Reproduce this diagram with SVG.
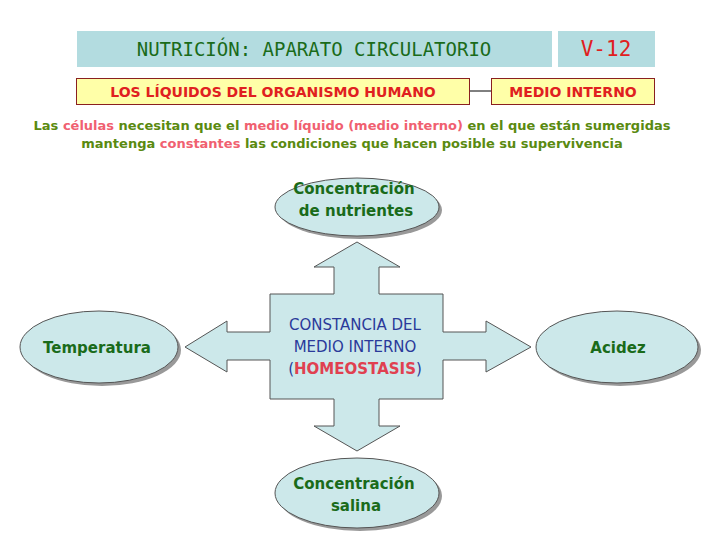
<svg xmlns="http://www.w3.org/2000/svg" width="720" height="540" viewBox="0 0 720 540">
<defs>
<style>
.c{font-family:"DejaVu Sans",sans-serif;font-weight:bold}
.e{fill:#cce8ea;stroke:#555;stroke-width:1}
.g{fill:#1a6b1a;font-size:15px}
.sh{fill:#999}
</style>
</defs>
<rect width="720" height="540" fill="#fff"/>
<g id="title">
<rect x="77" y="31" width="475" height="36" fill="#b3dce0"/>
<text x="314" y="56" text-anchor="middle" font-family="DejaVu Sans Mono,monospace" font-size="19" fill="#1a6b1a">NUTRICIÓN: APARATO CIRCULATORIO</text>
</g>
<g id="code">
<rect x="558" y="31" width="97" height="36" fill="#b3dce0"/>
<text x="606" y="56" text-anchor="middle" font-family="DejaVu Sans Mono,monospace" font-size="21" fill="#e02020">V-12</text>
</g>
<g id="connectors"><line x1="470" y1="91" x2="491" y2="91" stroke="#000"/></g>
<g id="liquidos">
<rect x="76.5" y="78.5" width="393" height="26" fill="#ffffa8" stroke="#8a2020"/>
<text x="273" y="97" text-anchor="middle" class="c" font-size="14" fill="#e02020">LOS LÍQUIDOS DEL ORGANISMO HUMANO</text>
</g>
<g id="medio">
<rect x="491.5" y="78.5" width="163" height="26" fill="#ffffa8" stroke="#8a2020"/>
<text x="573" y="97" text-anchor="middle" class="c" font-size="14" fill="#e02020">MEDIO INTERNO</text>
</g>
<g id="texto" class="c" font-size="13" fill="#5a8a10">
<text x="352" y="130" text-anchor="middle">Las <tspan fill="#f06070">células</tspan> necesitan que el <tspan fill="#f06070">medio líquido (medio interno)</tspan> en el que están sumergidas</text>
<text x="352" y="148" text-anchor="middle">mantenga <tspan fill="#f06070">constantes</tspan> las condiciones que hacen posible su supervivencia</text>
</g>
<g id="cross">
<path d="M357,242 L400,267 L379,267 L379,294 L443,294 L443,332 L486,332 L486,321 L531,347 L486,372 L486,360 L443,360 L443,399 L379,399 L379,426 L400,426 L357,451 L314,426 L334,426 L334,399 L270,399 L270,360 L227,360 L227,372 L185,347 L227,321 L227,332 L270,332 L270,294 L334,294 L334,267 L314,267 Z" fill="#cce8ea" stroke="#555"/>
<text text-anchor="middle" font-family="DejaVu Sans,sans-serif" font-size="15" fill="#2a3a9a"><tspan x="355" y="330">CONSTANCIA DEL</tspan><tspan x="355" y="352">MEDIO INTERNO</tspan><tspan x="355" y="374">(<tspan class="c" fill="#e04050">HOMEOSTASIS</tspan>)</tspan></text>
</g>
<g id="nutrientes">
<ellipse cx="360" cy="210" rx="82" ry="29" class="sh"/>
<ellipse cx="357" cy="207" rx="82" ry="29" class="e"/>
<text text-anchor="middle" class="c g"><tspan x="354" y="194">Concentración</tspan><tspan x="356" y="216">de nutrientes</tspan></text>
</g>
<g id="temperatura">
<ellipse cx="102" cy="350" rx="79" ry="36" class="sh"/>
<ellipse cx="99" cy="347" rx="79" ry="36" class="e"/>
<text x="97" y="353" text-anchor="middle" class="c g">Temperatura</text>
</g>
<g id="acidez">
<ellipse cx="620" cy="350" rx="81" ry="36" class="sh"/>
<ellipse cx="617" cy="347" rx="81" ry="36" class="e"/>
<text x="618" y="353" text-anchor="middle" class="c g">Acidez</text>
</g>
<g id="salina">
<ellipse cx="360" cy="496" rx="82" ry="35" class="sh"/>
<ellipse cx="357" cy="493" rx="82" ry="35" class="e"/>
<text text-anchor="middle" class="c g"><tspan x="354" y="489">Concentración</tspan><tspan x="356" y="511">salina</tspan></text>
</g>
</svg>
